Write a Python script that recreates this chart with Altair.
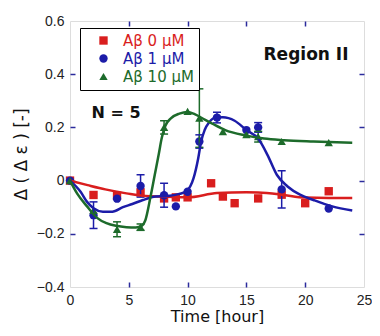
import altair as alt
import pandas as pd

# ---------------- data ----------------
series = ["Aβ 0 μM", "Aβ 1 μM", "Aβ 10 μM"]
colors = ["#d91e1e", "#1c1ca8", "#1d6b2b"]
shapes = ["square", "circle", "triangle-up"]

# measured points (time [h], value, error)
t_red = [0, 2, 4, 6, 8, 9, 10, 12, 13, 14, 16, 18, 20, 22]
v_red = [0, -0.054, -0.057, -0.044, -0.067, -0.063, -0.063, -0.01, -0.06, -0.085, -0.067, -0.053, -0.085, -0.04]
e_red = [0, 0, 0, 0, 0, 0, 0, 0, 0, 0, 0, 0, 0, 0]

t_blue = [0, 2, 4, 6, 8, 9, 10, 11, 12.5, 15, 16, 18, 22]
v_blue = [0, -0.13, -0.068, -0.02, -0.055, -0.097, -0.042, 0.147, 0.237, 0.19, 0.2, -0.033, -0.105]
e_blue = [0, 0.05, 0, 0.042, 0.045, 0, 0, 0.025, 0.02, 0, 0.018, 0.07, 0]

t_green = [0, 2, 4, 6, 8, 10, 11, 13, 15, 16, 18, 22]
v_green = [0, -0.112, -0.183, -0.175, 0.2, 0.26, 0.235, 0.184, 0.173, 0.165, 0.147, 0.143]
e_green = [0, 0, 0.028, 0.012, 0.025, 0, 0.11, 0, 0, 0.02, 0, 0]

# fitted curves
ct_red = [0, 1.5, 3, 4.8, 6.4, 8, 10, 12.5, 15, 16, 18, 20, 22, 24]
cv_red = [0, -0.017, -0.033, -0.048, -0.058, -0.06, -0.063, -0.047, -0.044, -0.045, -0.053, -0.064, -0.065, -0.065]

ct_blue = [0, 0.9, 1.45, 2, 2.8, 3.6, 4.5, 5.3, 6.2, 7.3, 8.3, 9.3, 9.9, 10.5, 10.9, 11.15, 11.45, 11.85,
           12.4, 13, 14, 15, 16, 16.8, 17.6, 18.5, 19.6, 20.7, 22.3, 24]
cv_blue = [0, -0.042, -0.08, -0.104, -0.117, -0.117, -0.1, -0.088, -0.073, -0.06, -0.058, -0.05, -0.04, 0.008,
           0.083, 0.147, 0.19, 0.22, 0.237, 0.238, 0.225, 0.19, 0.158, 0.096, 0.021, -0.022, -0.054, -0.073,
           -0.097, -0.112]

ct_green = [0, 0.6, 1.45, 2.3, 3.1, 3.9, 4.8, 5.6, 6.1, 6.4, 6.85, 7.2, 7.55, 7.8, 8.1, 8.6, 9.3, 10,
            10.6, 11.5, 12.1, 13.2, 14.9, 16.5, 18.2, 20.7, 24]
cv_green = [0, -0.048, -0.097, -0.14, -0.16, -0.17, -0.175, -0.176, -0.17, -0.15, -0.06, 0.02, 0.1, 0.16,
            0.205, 0.235, 0.252, 0.258, 0.25, 0.228, 0.214, 0.19, 0.17, 0.158, 0.152, 0.147, 0.142]

x_ticks = [0, 5, 10, 15, 20, 25]
y_ticks = [-0.4, -0.2, 0, 0.2, 0.4, 0.6]

# ---------------- tables ----------------
pts = pd.concat([
    pd.DataFrame({"t": t, "v": v, "e": e, "s": s})
    for t, v, e, s in [(t_red, v_red, e_red, series[0]),
                       (t_blue, v_blue, e_blue, series[1]),
                       (t_green, v_green, e_green, series[2])]
], ignore_index=True)
pts["lo"] = pts["v"] - pts["e"]
pts["hi"] = pts["v"] + pts["e"]
errs = pts[pts["e"] > 0]

curves = pd.concat([
    pd.DataFrame({"t": t, "v": v, "s": s})
    for t, v, s in [(ct_red, cv_red, series[0]),
                    (ct_blue, cv_blue, series[1]),
                    (ct_green, cv_green, series[2])]
], ignore_index=True)

NAVY = "#2b2b9c"
FONT = "DejaVu Sans"
xscale = alt.Scale(domain=[0, 25], nice=False)
yscale = alt.Scale(domain=[-0.4, 0.6], nice=False)
cscale = alt.Scale(domain=series, range=colors)
sscale = alt.Scale(domain=series, range=shapes)

label_expr = ("datum.label == '%s' ? '%s' : (datum.label == '%s' ? '%s' : '%s')"
              % (series[0], colors[0], series[1], colors[1], colors[2]))

legend = alt.Legend(orient="none", legendX=10, legendY=7, title=None,
                    strokeColor="black", fillColor="white", padding=5,
                    symbolOffset=11, labelOffset=12, labelFont=FONT, labelFontSize=15,
                    rowPadding=2, symbolSize=70, symbolStrokeWidth=0,
                    labelColor={"expr": label_expr})

main_x = alt.Axis(values=x_ticks, title="Time [hour]", ticks=False, domain=False, grid=False,
                  labelFlush=False, labelOverlap=False,
                  labelFont="Liberation Sans", labelFontSize=14, labelColor="#222", labelPadding=6,
                  titleFont=FONT, titleFontSize=16, titleFontWeight="normal", titleColor="#111",
                  titleY=29, titleBaseline="middle")
main_y = alt.Axis(values=y_ticks, title="Δ ( Δ ε ) [-]", format="~g", ticks=False, domain=False,
                  grid=False, labelFlush=False, labelOverlap=False,
                  labelFont="Liberation Sans", labelFontSize=14, labelColor="#222",
                  labelPadding=6, titleFont=FONT, titleFontSize=17, titleFontWeight="normal",
                  titleColor="#111", titleX=-49, titleY=133, titleBaseline="middle", titleAlign="center")


def tick_axis(orient, values):
    return alt.Axis(orient=orient, values=values, offset=-5, tickSize=5, tickColor=NAVY, tickWidth=1.5,
                    domain=False, labels=False, grid=False, title=None)


points = alt.Chart(pts).mark_point(filled=True, size=70, opacity=1).encode(
    x=alt.X("t:Q", scale=xscale, axis=main_x),
    y=alt.Y("v:Q", scale=yscale, axis=main_y),
    color=alt.Color("s:N", scale=cscale, legend=legend),
    shape=alt.Shape("s:N", scale=sscale, legend=legend),
)

bars = alt.Chart(errs).mark_rule(strokeWidth=1.5).encode(
    x=alt.X("t:Q", scale=xscale, axis=tick_axis("bottom", x_ticks[1:-1])),
    y=alt.Y("lo:Q", scale=yscale, axis=tick_axis("left", y_ticks[1:-1])),
    y2="hi:Q",
    color=alt.Color("s:N", scale=cscale, legend=None),
)
caps_lo = alt.Chart(errs).mark_tick(orient="horizontal", size=8, thickness=1.5, opacity=1).encode(
    x=alt.X("t:Q", scale=xscale, axis=None),
    y=alt.Y("lo:Q", scale=yscale, axis=None),
    color=alt.Color("s:N", scale=cscale, legend=None),
)
caps_hi = alt.Chart(errs).mark_tick(orient="horizontal", size=8, thickness=1.5, opacity=1).encode(
    x=alt.X("t:Q", scale=xscale, axis=None),
    y=alt.Y("hi:Q", scale=yscale, axis=None),
    color=alt.Color("s:N", scale=cscale, legend=None),
)

lines = alt.Chart(curves).mark_line(strokeWidth=2.5, interpolate="monotone").encode(
    x=alt.X("t:Q", scale=xscale, axis=tick_axis("top", x_ticks[1:-1])),
    y=alt.Y("v:Q", scale=yscale, axis=tick_axis("right", y_ticks[1:-1])),
    color=alt.Color("s:N", scale=cscale, legend=None),
    detail="s:N",
)

region = alt.Chart(pd.DataFrame({"txt": ["Region II"]})).mark_text(
    font=FONT, fontSize=17, fontWeight="bold", color="#111", align="center", baseline="middle"
).encode(text="txt:N", x=alt.value(236), y=alt.value(34))

nlabel = alt.Chart(pd.DataFrame({"txt": ["N = 5"]})).mark_text(
    font=FONT, fontSize=16, fontWeight="bold", color="#111", align="center", baseline="middle"
).encode(text="txt:N", x=alt.value(46), y=alt.value(92))

chart = alt.layer(points, bars, caps_lo, caps_hi, lines, region, nlabel).resolve_axis(
    x="independent", y="independent"
).properties(
    width=294, height=266,
    autosize=alt.AutoSizeParams(type="none"),
    padding={"left": 62, "top": 13, "right": 8, "bottom": 37},
).configure_view(stroke=NAVY, strokeWidth=1.5).configure(background="white")

chart.save("out.html", embed_options={"renderer": "svg", "actions": False})
